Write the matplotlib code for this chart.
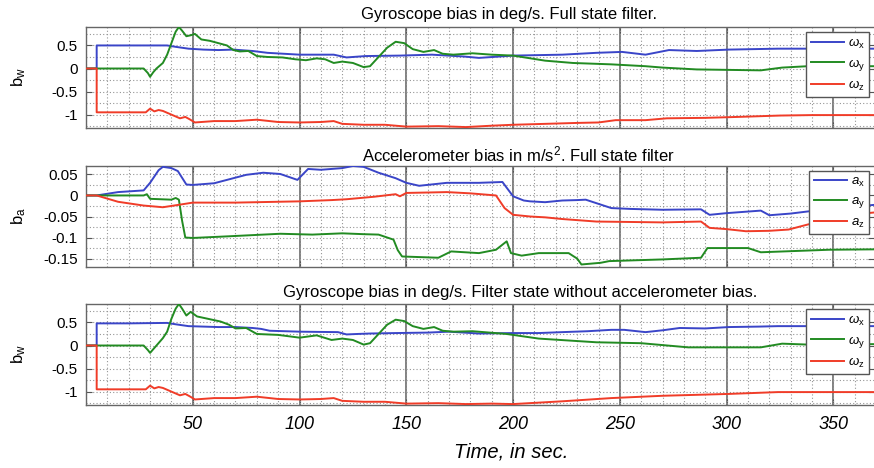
import matplotlib
matplotlib.use('Agg')
import matplotlib.pyplot as plt
from matplotlib.ticker import MultipleLocator, FixedLocator

plt.rcParams['font.family'] = ['Liberation Sans', 'DejaVu Sans']
plt.rcParams['mathtext.fontset'] = 'custom'
plt.rcParams['mathtext.rm'] = 'Liberation Sans'
plt.rcParams['mathtext.it'] = 'Liberation Sans:italic'
plt.rcParams['mathtext.bf'] = 'Liberation Sans:bold'

# ---------------- data ----------------
x_ticks = [50, 100, 150, 200, 250, 300, 350]
x_ticklabels = ['50', '100', '150', '200', '250', '300', '350']

gyro_yticks = [0.5, 0, -0.5, -1]
gyro_yticklabels = ['0.5', '0', '-0.5', '-1']
acc_yticks = [0.05, 0, -0.05, -0.1, -0.15]
acc_yticklabels = ['0.05', '0', '-0.05', '-0.1', '-0.15']

# Panel 1: gyroscope bias, full state filter
p1_wx_t = [0, 5, 5, 20, 38, 42, 48, 55, 62, 69, 78, 85, 100, 116, 122, 131, 147, 162, 177, 184, 200, 223, 239, 251, 262, 273, 286, 301, 324, 345, 370]
p1_wx_v = [0, 0, 0.5, 0.5, 0.5, 0.47, 0.43, 0.41, 0.4, 0.41, 0.38, 0.34, 0.3, 0.3, 0.24, 0.27, 0.28, 0.3, 0.26, 0.23, 0.28, 0.3, 0.34, 0.36, 0.3, 0.4, 0.38, 0.41, 0.43, 0.43, 0.43]

p1_wy_t = [0, 5, 27, 29, 30, 31.5, 33, 36, 38, 40, 42, 43.5, 45, 47, 49, 51, 54, 58, 62, 66, 69, 72, 76, 80, 85, 92, 98, 103, 108, 112, 116, 120, 125, 130, 133, 137, 141, 145, 149, 153, 158, 163, 167, 172, 181, 190, 200, 215, 228, 246, 262, 270, 286, 316, 326, 338, 370]
p1_wy_v = [0, 0, 0, -0.1, -0.18, -0.08, 0, 0.12, 0.3, 0.55, 0.8, 0.9, 0.82, 0.7, 0.72, 0.75, 0.63, 0.6, 0.55, 0.5, 0.4, 0.37, 0.38, 0.27, 0.25, 0.24, 0.2, 0.18, 0.22, 0.2, 0.12, 0.15, 0.12, 0.03, 0.05, 0.25, 0.45, 0.58, 0.55, 0.42, 0.36, 0.4, 0.32, 0.3, 0.33, 0.3, 0.28, 0.17, 0.12, 0.09, 0.05, 0.02, -0.02, -0.04, 0.02, 0.05, 0.05]

p1_wz_t = [0, 5, 5, 28, 30, 32, 34, 36, 40, 44, 46.5, 48.5, 51, 60, 70, 80, 90, 100, 110, 116, 120, 130, 140, 150, 165, 178, 190, 200, 215, 230, 240, 248, 262, 272, 290, 305, 325, 340, 370]
p1_wz_v = [0, 0, -0.95, -0.95, -0.87, -0.93, -0.9, -0.92, -1.0, -1.08, -1.05, -1.1, -1.17, -1.14, -1.14, -1.11, -1.16, -1.17, -1.16, -1.14, -1.2, -1.22, -1.22, -1.26, -1.25, -1.27, -1.24, -1.22, -1.2, -1.18, -1.17, -1.12, -1.12, -1.08, -1.07, -1.05, -1.02, -1.01, -1.01]

# Panel 2: accelerometer bias, full state filter
p2_ax_t = [0, 5, 15, 27, 30, 34, 36, 40, 43, 47, 50, 60, 75, 83, 91, 99, 104, 110, 120, 125, 130, 137, 145, 150, 156, 169, 184, 195, 200, 205, 208, 215, 223, 230, 234, 240, 246, 255, 270, 288, 292, 300, 316, 320, 330, 338, 352, 370]
p2_ax_v = [0, 0, 0.008, 0.012, 0.03, 0.06, 0.068, 0.065, 0.058, 0.026, 0.025, 0.029, 0.049, 0.054, 0.051, 0.037, 0.063, 0.061, 0.065, 0.07, 0.068, 0.054, 0.041, 0.03, 0.023, 0.03, 0.03, 0.032, -0.002, -0.012, -0.014, -0.016, -0.012, -0.011, -0.01, -0.02, -0.03, -0.032, -0.034, -0.033, -0.046, -0.042, -0.036, -0.047, -0.043, -0.038, -0.03, -0.022]

p2_ay_t = [0, 5, 27, 28.5, 30, 40, 42, 43.5, 45, 46.5, 50, 67, 91, 106, 120, 130, 137, 144, 146, 148, 165, 171, 184, 192, 197, 199, 204, 212, 226, 230, 232, 241, 245, 270, 288, 291, 310, 316, 348, 370]
p2_ay_v = [0, 0, 0, 0.003, -0.008, -0.01, -0.006, -0.01, -0.06, -0.1, -0.101, -0.097, -0.091, -0.093, -0.09, -0.092, -0.093, -0.105, -0.13, -0.145, -0.148, -0.133, -0.137, -0.129, -0.109, -0.137, -0.143, -0.137, -0.137, -0.15, -0.164, -0.16, -0.156, -0.152, -0.148, -0.125, -0.125, -0.135, -0.129, -0.128]

p2_az_t = [0, 5, 15, 27, 36, 45, 50, 70, 90, 100, 115, 122, 135, 145, 147, 150, 160, 169, 180, 192, 196, 200, 208, 215, 223, 239, 255, 270, 288, 292, 300, 309, 320, 329, 338, 350, 360, 370]
p2_az_v = [0, 0, -0.015, -0.024, -0.028, -0.021, -0.017, -0.017, -0.015, -0.014, -0.011, -0.009, -0.003, 0.003, -0.002, 0.006, 0.007, 0.008, 0.005, 0.0, -0.03, -0.046, -0.05, -0.052, -0.056, -0.062, -0.063, -0.064, -0.062, -0.077, -0.08, -0.085, -0.084, -0.081, -0.069, -0.055, -0.045, -0.04]

# Panel 3: gyroscope bias, filter state without accelerometer bias
p3_wx_t = [0, 5, 5, 20, 38, 42, 48, 55, 62, 70, 78, 82, 86, 100, 118, 122, 127, 133, 145, 160, 170, 184, 200, 212, 223, 235, 246, 252, 262, 270, 278, 290, 301, 315, 324, 340, 370]
p3_wx_v = [0, 0, 0.48, 0.48, 0.49, 0.46, 0.42, 0.41, 0.4, 0.4, 0.38, 0.36, 0.32, 0.3, 0.29, 0.24, 0.25, 0.26, 0.27, 0.28, 0.3, 0.26, 0.27, 0.27, 0.29, 0.31, 0.34, 0.34, 0.29, 0.33, 0.38, 0.37, 0.4, 0.41, 0.42, 0.42, 0.42]

p3_wy_t = [0, 5, 27, 29, 30, 31.5, 33, 36, 38, 40, 42, 43.5, 45, 47, 49, 52, 57, 63, 67, 70, 75, 80, 90, 100, 108, 115, 120, 125, 130, 133, 137, 141, 145, 149, 153, 158, 163, 167, 172, 181, 197, 212, 239, 260, 282, 316, 326, 338, 370]
p3_wy_v = [0, 0, 0, -0.1, -0.16, -0.08, 0, 0.16, 0.3, 0.58, 0.8, 0.9, 0.8, 0.65, 0.73, 0.63, 0.58, 0.52, 0.45, 0.37, 0.38, 0.25, 0.23, 0.17, 0.22, 0.12, 0.15, 0.12, 0.02, 0.05, 0.25, 0.45, 0.56, 0.53, 0.42, 0.36, 0.4, 0.32, 0.3, 0.31, 0.25, 0.15, 0.07, 0.05, -0.04, -0.04, 0.04, 0.02, 0.03]

p3_wz_t = [0, 5, 5, 28, 30, 32, 34, 36, 40, 44, 46.5, 48.5, 51, 60, 70, 80, 90, 100, 110, 116, 120, 130, 140, 150, 165, 178, 190, 200, 223, 246, 270, 301, 324, 340, 370]
p3_wz_v = [0, 0, -0.95, -0.95, -0.87, -0.93, -0.9, -0.92, -1.0, -1.08, -1.05, -1.1, -1.17, -1.14, -1.14, -1.11, -1.16, -1.17, -1.16, -1.14, -1.2, -1.22, -1.22, -1.26, -1.25, -1.27, -1.26, -1.27, -1.21, -1.14, -1.09, -1.05, -1.01, -1.01, -1.01]

gyro_labels = [r'$\omega_\mathrm{x}$', r'$\omega_\mathrm{y}$', r'$\omega_\mathrm{z}$']
acc_labels = [r'$a_\mathrm{x}$', r'$a_\mathrm{y}$', r'$a_\mathrm{z}$']

titles = ['Gyroscope bias in deg/s. Full state filter.',
          r'Accelerometer bias in m/s$^\mathrm{2}$. Full state filter',
          'Gyroscope bias in deg/s. Filter state without accelerometer bias.']
ylabels = [r'b$_\mathrm{w}$', r'b$_\mathrm{a}$', r'b$_\mathrm{w}$']
xlabel = 'Time, in sec.'

# ---------------- style ----------------
colors = ['#3a45c8', '#228b22', '#f03c28']
W, H = 874, 468
fig = plt.figure(figsize=(W / 100, H / 100), dpi=100)

left_px, right_px = 86, 874
panels_px = [(27, 128), (166, 267), (304, 405)]
title_pos = [(509, 14), (518, 154), (520, 292)]


def make_ax(top, bottom):
    return fig.add_axes([left_px / W, 1 - bottom / H, (right_px - left_px) / W, (bottom - top) / H])


axes = [make_ax(t, b) for t, b in panels_px]

series = [
    [(p1_wx_t, p1_wx_v), (p1_wy_t, p1_wy_v), (p1_wz_t, p1_wz_v)],
    [(p2_ax_t, p2_ax_v), (p2_ay_t, p2_ay_v), (p2_az_t, p2_az_v)],
    [(p3_wx_t, p3_wx_v), (p3_wy_t, p3_wy_v), (p3_wz_t, p3_wz_v)],
]
ylims = [(-1.29, 0.9), (-0.17, 0.07), (-1.29, 0.9)]
yticks = [gyro_yticks, acc_yticks, gyro_yticks]
ytl = [gyro_yticklabels, acc_yticklabels, gyro_yticklabels]
yminor = [0.25, 0.025, 0.25]
leglabels = [gyro_labels, acc_labels, gyro_labels]

for i, ax in enumerate(axes):
    for (t, v), c, lab in zip(series[i], colors, leglabels[i]):
        ax.plot(t, v, color=c, lw=1.4, label=lab, zorder=3)
    ax.set_xlim(0, 369)
    ax.set_ylim(*ylims[i])
    ax.xaxis.set_major_locator(FixedLocator(x_ticks))
    ax.xaxis.set_minor_locator(MultipleLocator(10))
    ax.xaxis.remove_overlapping_locs = False
    ax.set_yticks(yticks[i])
    ax.set_yticklabels(ytl[i])
    ax.yaxis.set_minor_locator(MultipleLocator(yminor[i]))
    ax.set_axisbelow(True)
    dot = (0, (1, 2))
    ax.grid(which='minor', axis='both', linestyle=dot, color='#959595', lw=0.8)
    ax.grid(which='major', axis='y', linestyle=dot, color='#959595', lw=0.8)
    ax.grid(which='major', axis='x', linestyle='-', color='#5e5e5e', lw=1.1)
    for tk in ax.xaxis.get_major_ticks():
        if tk.get_loc() == 50:
            tk.gridline.set_visible(False)
    ax.tick_params(which='major', direction='in', length=4, top=True, right=True,
                   color='#555555', labelsize=11, pad=6)
    ax.tick_params(which='minor', length=0)
    for s in ['top', 'bottom', 'left']:
        ax.spines[s].set_color('#666666')
        ax.spines[s].set_linewidth(1.0)
    ax.spines['right'].set_visible(False)
    if i < 2:
        ax.set_xticklabels([])
    else:
        ax.set_xticklabels(x_ticklabels, fontsize=13, style='italic')
        ax.tick_params(axis='x', pad=8)
    ax.set_ylabel(ylabels[i], fontsize=12)
    ax.yaxis.set_label_coords(-0.073, 0.5)
    leg = ax.legend(loc='upper right', bbox_to_anchor=(0.994, 0.95), borderaxespad=0,
                    fontsize=9.5, handlelength=2.5, handletextpad=0.3, labelspacing=0.45,
                    borderpad=0.35, fancybox=False, framealpha=1, edgecolor='#555555')
    leg.get_frame().set_linewidth(1.0)
    tx, ty = title_pos[i]
    fig.text(tx / W, 1 - ty / H, titles[i], ha='center', va='center', fontsize=12)

fig.text(511 / W, 1 - 452 / H, xlabel, ha='center', va='center', fontsize=14.5, style='italic')

fig.savefig('out.png', dpi=100)
